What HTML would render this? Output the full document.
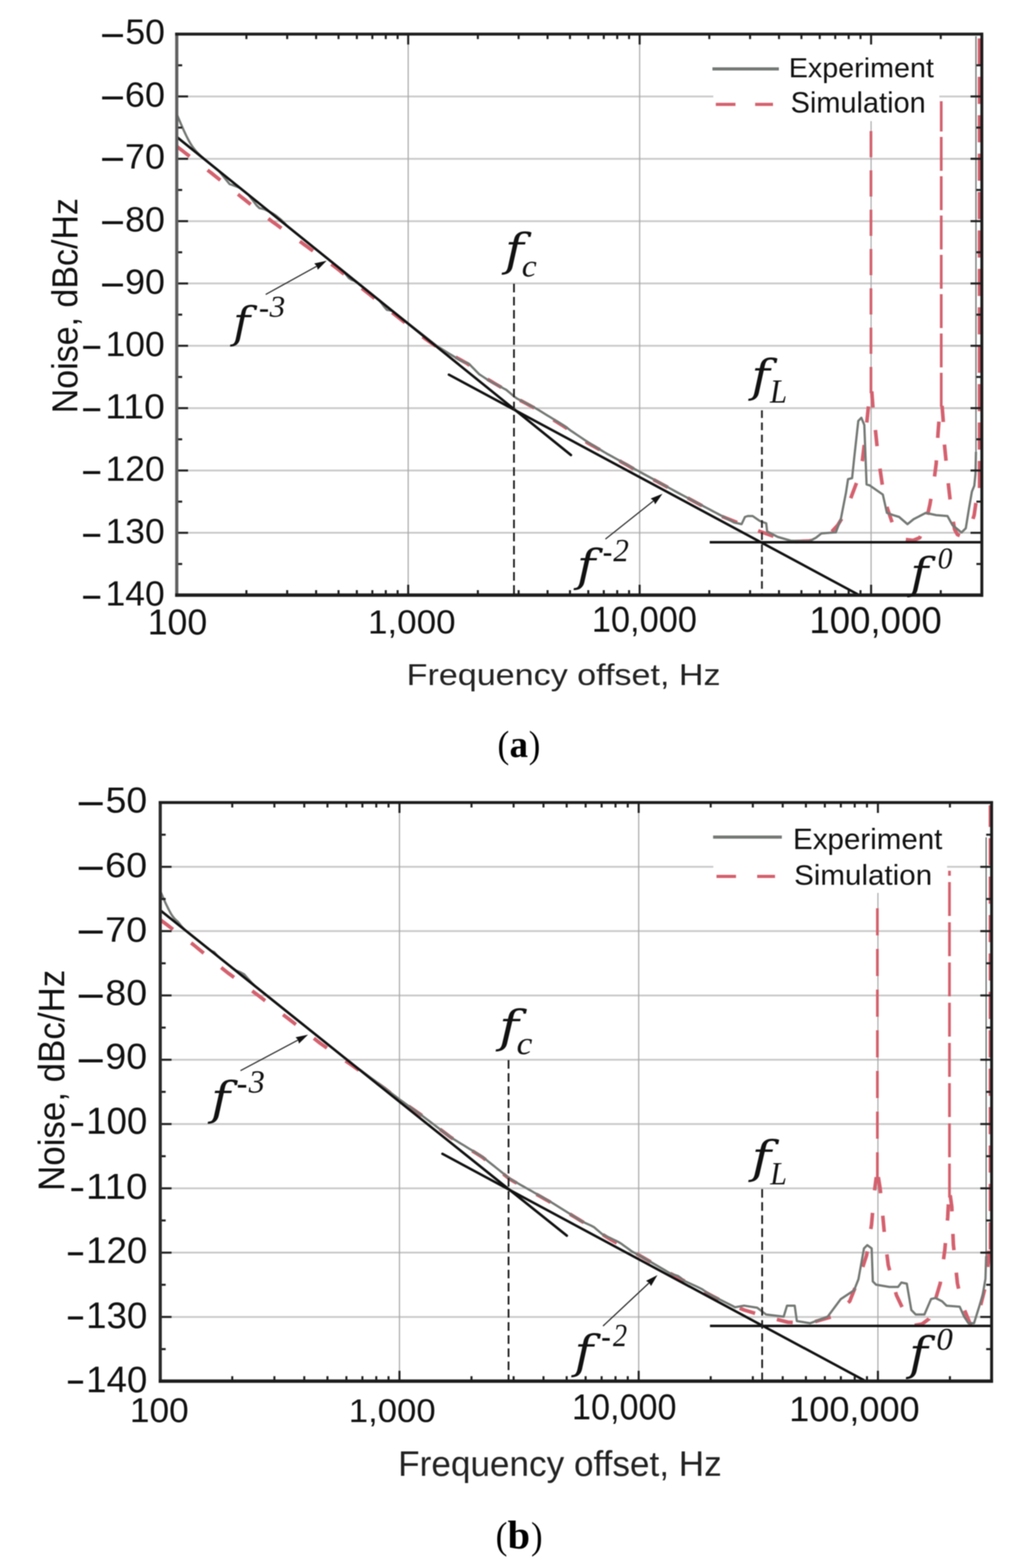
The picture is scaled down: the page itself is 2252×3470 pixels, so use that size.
<!DOCTYPE html>
<html><head><meta charset="utf-8"><title>Noise spectra</title>
<style>html,body{margin:0;padding:0;background:#fff}svg{display:block;filter:blur(1px)}</style></head>
<body><svg xmlns="http://www.w3.org/2000/svg" width="2252" height="3470" viewBox="0 0 2252 3470">
<rect width="2252" height="3470" fill="#fff"/>
<line x1="391.0" y1="213.4" x2="2172.0" y2="213.4" stroke="#c9c9c9" stroke-width="4" />
<line x1="391.0" y1="351.4" x2="2172.0" y2="351.4" stroke="#c9c9c9" stroke-width="4" />
<line x1="391.0" y1="489.4" x2="2172.0" y2="489.4" stroke="#c9c9c9" stroke-width="4" />
<line x1="391.0" y1="627.3" x2="2172.0" y2="627.3" stroke="#c9c9c9" stroke-width="4" />
<line x1="391.0" y1="765.2" x2="2172.0" y2="765.2" stroke="#c9c9c9" stroke-width="4" />
<line x1="391.0" y1="903.2" x2="2172.0" y2="903.2" stroke="#c9c9c9" stroke-width="4" />
<line x1="391.0" y1="1041.2" x2="2172.0" y2="1041.2" stroke="#c9c9c9" stroke-width="4" />
<line x1="391.0" y1="1179.1" x2="2172.0" y2="1179.1" stroke="#c9c9c9" stroke-width="4" />
<line x1="903.0" y1="75.5" x2="903.0" y2="1317.0" stroke="#a8a8a8" stroke-width="2.5" />
<line x1="1415.0" y1="75.5" x2="1415.0" y2="1317.0" stroke="#a8a8a8" stroke-width="2.5" />
<line x1="1927.0" y1="75.5" x2="1927.0" y2="1317.0" stroke="#a8a8a8" stroke-width="2.5" />
<rect x="1578" y="92" width="500" height="176" fill="#fff"/>
<line x1="1576.0" y1="152.6" x2="1723.0" y2="152.6" stroke="#747975" stroke-width="7" />
<line x1="1583.5" y1="231.0" x2="1627.0" y2="231.0" stroke="#d4606d" stroke-width="7" />
<line x1="1670.5" y1="231.0" x2="1710.0" y2="231.0" stroke="#d4606d" stroke-width="7" />
<polyline points="391.0,324.0 397.0,328.6 403.0,333.2 409.0,337.8 415.0,342.5 421.0,347.1 427.0,351.7 433.0,356.3 439.0,360.9 445.0,365.5 451.0,370.2 457.0,374.8 463.0,379.4 469.0,384.0 475.0,388.8 481.0,393.6 487.0,398.4 493.0,403.2 499.0,408.0 505.0,412.8 511.0,417.6 517.0,422.4 523.0,427.2 529.0,432.0 535.0,436.8 541.0,441.5 547.0,446.3 553.0,451.1 559.0,455.9 565.0,460.7 571.0,465.5 577.0,470.3 583.0,475.1 589.0,479.9 595.0,484.7 601.0,489.4 607.0,493.8 613.0,498.1 619.0,502.4 625.0,506.7 631.0,511.0 637.0,515.3 643.0,519.6 649.0,523.9 655.0,528.2 661.0,532.5 667.0,536.8 673.0,541.2 679.0,545.5 685.0,549.9 691.0,554.2 697.0,558.6 703.0,562.9 709.0,567.3 715.0,571.6 721.0,576.0 727.0,580.3 733.0,584.7 739.0,589.0 745.0,593.7 751.0,598.5 757.0,603.3 763.0,608.1 769.0,612.9 775.0,617.7 781.0,622.5 787.0,627.3 793.0,632.1 799.0,636.8 805.0,641.6 811.0,646.4 817.0,651.2 823.0,656.0 829.0,660.8 835.0,665.6 841.0,670.4 847.0,675.2 853.0,679.9 859.0,684.7 865.0,689.5 871.0,694.3 877.0,699.0 883.0,703.8 889.0,708.6 895.0,713.4 901.0,718.2 907.0,722.9 913.0,727.7 919.0,732.5 925.0,737.3 931.0,742.0 937.0,746.8 943.0,751.3 949.0,755.5 955.0,759.7 961.0,763.9 967.0,768.1 973.0,771.4 979.0,774.5 985.0,777.7 991.0,780.9 997.0,784.2 1003.0,787.6 1009.0,790.9 1015.0,794.3 1021.0,797.6 1027.0,800.9 1033.0,804.3 1039.0,808.3 1045.0,813.7 1051.0,819.0 1057.0,824.4 1063.0,829.1 1069.0,833.0 1075.0,836.9 1081.0,840.8 1087.0,844.3 1093.0,847.9 1099.0,851.4 1105.0,854.9 1111.0,858.5 1117.0,862.0 1123.0,865.9 1129.0,870.8 1135.0,875.6 1141.0,880.5 1147.0,883.9 1153.0,887.1 1159.0,890.3 1165.0,893.5 1171.0,896.8 1177.0,900.0 1183.0,903.2 1189.0,907.0 1195.0,910.7 1201.0,914.5 1207.0,918.3 1213.0,922.0 1219.0,925.8 1225.0,929.6 1231.0,933.3 1237.0,937.1 1243.0,940.8 1249.0,944.6 1255.0,948.7 1261.0,952.9 1267.0,957.1 1273.0,961.3 1279.0,965.5 1285.0,969.6 1291.0,973.8 1297.0,978.0 1303.0,981.8 1309.0,985.2 1315.0,988.6 1321.0,991.9 1327.0,995.3 1333.0,998.7 1339.0,1002.1 1345.0,1005.5 1351.0,1008.8 1357.0,1012.2 1363.0,1015.6 1369.0,1019.0 1375.0,1022.4 1381.0,1025.7 1387.0,1029.1 1393.0,1032.5 1399.0,1035.9 1405.0,1039.3 1411.0,1042.6 1417.0,1046.0 1423.0,1049.2 1429.0,1052.5 1435.0,1055.7 1441.0,1058.9 1447.0,1062.1 1453.0,1065.3 1459.0,1068.6 1465.0,1071.8 1471.0,1075.0 1477.0,1078.2 1483.0,1081.5 1489.0,1084.7 1495.0,1087.9 1501.0,1091.2 1507.0,1094.4 1513.0,1097.6 1519.0,1100.8 1525.0,1104.0 1531.0,1107.3 1537.0,1110.5 1543.0,1113.7 1549.0,1117.0 1555.0,1120.2 1561.0,1123.4 1567.0,1126.6 1573.0,1129.8 1579.0,1133.1 1585.0,1136.3 1591.0,1139.5 1597.0,1142.8 1640.0,1160.0 1681.0,1176.0 1720.0,1190.0 1754.0,1198.7 1790.0,1197.0 1808.0,1194.0 1835.0,1182.0 1853.0,1162.5 1870.0,1135.0 1885.0,1094.5 1898.0,1060.0 1908.0,1017.5 1917.0,940.0 1922.0,890.0 1925.0,866.0" fill="none" stroke="#d4606d" stroke-width="8" stroke-linejoin="round" stroke-dasharray="36 50"/>
<polyline points="1926.7,870.0 1926.7,285.0" fill="none" stroke="#d4606d" stroke-width="6" stroke-linejoin="round" stroke-dasharray="58 29"/>
<polyline points="1928.5,866.0 1931.0,900.0 1935.0,936.0 1942.0,1005.0 1952.0,1074.0 1963.0,1125.0 1975.7,1162.5 1990.0,1183.0 2003.0,1194.0 2020.0,1196.0 2034.6,1190.0 2047.0,1160.0 2057.0,1117.0 2066.0,1065.0 2071.0,1026.5 2075.0,960.0 2078.0,920.0 2080.5,898.0" fill="none" stroke="#d4606d" stroke-width="8" stroke-linejoin="round" stroke-dasharray="36 50"/>
<polyline points="2082.2,900.0 2082.2,224.0" fill="none" stroke="#d4606d" stroke-width="6" stroke-linejoin="round" stroke-dasharray="75 12"/>
<polyline points="2084.0,898.0 2086.5,930.0 2089.0,981.0 2098.0,1072.0 2104.0,1125.0 2111.7,1171.5 2118.0,1183.0 2125.0,1186.0 2135.0,1180.0 2148.0,1162.5 2155.0,1140.0 2161.5,1094.5 2164.0,1078.0" fill="none" stroke="#d4606d" stroke-width="8" stroke-linejoin="round" stroke-dasharray="36 50"/>
<polyline points="2166.0,1080.0 2166.0,80.0" fill="none" stroke="#d4606d" stroke-width="6" stroke-linejoin="round" stroke-dasharray="60 25"/>
<polyline points="391.0,252.7 394.0,259.8 397.0,266.8 400.0,273.8 403.0,280.6 406.0,287.4 409.0,293.9 412.0,300.2 415.0,306.2 418.0,311.8 421.0,317.0 424.0,321.8 427.0,326.2 430.0,330.2 433.0,333.8 436.0,337.1 439.0,340.1 442.0,343.0 448.0,348.5 454.0,353.6 460.0,358.6 466.0,363.5 472.0,368.4 478.0,373.2 484.0,378.1 490.0,385.2 496.0,392.8 502.0,400.1 508.0,407.5 514.0,409.5 520.0,411.6 526.0,413.8 532.0,416.8 538.0,421.7 544.0,426.5 550.0,431.4 556.0,439.2 562.0,447.0 568.0,454.9 574.0,460.6 580.0,461.9 586.0,463.7 592.0,466.4 598.0,469.4 604.0,472.9 610.0,476.8 616.0,481.6 622.0,486.5 628.0,492.2 634.0,498.9 640.0,504.0 646.0,508.9 652.0,513.7 658.0,518.5 664.0,523.4 670.0,528.2 676.0,533.1 682.0,537.9 688.0,542.8 694.0,547.6 700.0,552.5 706.0,557.3 712.0,562.1 718.0,567.0 724.0,571.8 730.0,576.7 736.0,581.5 742.0,586.4 748.0,591.2 754.0,596.0 760.0,600.9 766.0,608.3 772.0,615.7 778.0,619.4 784.0,621.3 790.0,625.1 796.0,630.0 802.0,634.8 808.0,639.6 814.0,644.5 820.0,649.3 826.0,654.2 832.0,659.0 838.0,663.9 844.0,670.8 850.0,678.9 856.0,685.8 862.0,686.9 868.0,688.1 874.0,692.8 880.0,697.5 886.0,702.3 892.0,707.0 898.0,711.7 904.0,716.4 910.0,721.1 916.0,725.9 922.0,730.6 928.0,735.3 934.0,740.0 940.0,744.8 946.0,749.5 952.0,754.2 958.0,758.9 964.0,763.7 970.0,768.0 976.0,771.7 982.0,775.4 988.0,779.1 994.0,782.8 1000.0,786.5 1006.0,790.2 1012.0,793.9 1018.0,797.6 1024.0,800.1 1030.0,802.2 1036.0,804.2 1042.0,809.7 1048.0,815.8 1054.0,822.0 1060.0,828.1 1066.0,832.0 1072.0,836.0 1078.0,839.9 1084.0,843.4 1090.0,846.6 1096.0,849.9 1102.0,853.1 1108.0,856.3 1114.0,859.6 1120.0,862.8 1126.0,867.7 1132.0,872.9 1138.0,878.0 1144.0,882.1 1150.0,885.2 1156.0,888.3 1162.0,891.4 1168.0,894.5 1174.0,897.6 1180.0,900.7 1186.0,904.1 1192.0,907.7 1198.0,911.4 1204.0,915.1 1210.0,918.8 1216.0,922.4 1222.0,926.1 1228.0,929.8 1234.0,933.4 1240.0,937.1 1246.0,940.8 1252.0,944.8 1258.0,949.4 1264.0,953.9 1270.0,957.9 1276.0,962.0 1282.0,966.0 1288.0,970.0 1294.0,974.1 1300.0,978.1 1306.0,981.8 1312.0,985.5 1318.0,989.1 1324.0,992.8 1330.0,996.5 1336.0,1000.2 1342.0,1003.7 1348.0,1007.0 1354.0,1010.3 1360.0,1013.6 1366.0,1016.9 1372.0,1020.2 1378.0,1023.5 1384.0,1026.8 1390.0,1030.1 1396.0,1033.4 1402.0,1036.8 1408.0,1040.1 1414.0,1043.4 1420.0,1046.7 1426.0,1050.0 1432.0,1053.3 1438.0,1056.5 1444.0,1059.8 1450.0,1063.1 1456.0,1066.4 1462.0,1069.7 1468.0,1073.0 1474.0,1076.3 1480.0,1079.6 1486.0,1082.9 1492.0,1086.2 1498.0,1089.5 1504.0,1092.7 1510.0,1095.9 1516.0,1099.1 1522.0,1102.2 1528.0,1105.4 1534.0,1108.5 1540.0,1111.7 1546.0,1114.9 1552.0,1118.0 1558.0,1121.2 1564.0,1124.4 1570.0,1127.5 1576.0,1130.7 1582.0,1133.9 1588.0,1137.0 1594.0,1140.2 1600.0,1143.4 1606.0,1146.6 1612.0,1149.8 1618.0,1153.0 1624.0,1156.3 1640.5,1160.0 1648.0,1144.0 1654.0,1142.0 1665.0,1142.0 1681.0,1153.0 1695.0,1158.0 1697.0,1176.0 1720.0,1188.0 1749.0,1196.5 1790.0,1198.0 1805.0,1190.0 1817.0,1180.6 1849.0,1178.0 1860.0,1149.0 1871.5,1090.0 1876.0,1060.5 1885.0,1058.0 1889.7,1013.0 1898.7,931.4 1905.5,924.6 1912.0,940.5 1917.0,1072.0 1923.6,1074.0 1953.0,1094.5 1962.0,1135.0 1975.7,1139.8 1989.0,1144.0 2007.5,1160.0 2021.0,1149.0 2048.0,1135.0 2071.0,1140.0 2096.0,1142.0 2107.0,1162.0 2127.0,1178.5 2136.5,1169.0 2143.0,1128.7 2150.0,1088.0 2155.3,1075.0 2158.0,1048.0 2159.0,1000.0" fill="none" stroke="#747975" stroke-width="5" stroke-linejoin="round" />
<line x1="2159.0" y1="1002.0" x2="2159.0" y2="80.0" stroke="#747975" stroke-width="3" />
<line x1="391.0" y1="303.0" x2="1263.0" y2="1007.0" stroke="#111111" stroke-width="5.5" stroke-linecap="round"/>
<line x1="993.0" y1="829.1" x2="1896.4" y2="1314.7" stroke="#111111" stroke-width="5.5" stroke-linecap="round"/>
<line x1="1570.0" y1="1200.0" x2="2172.0" y2="1200.0" stroke="#111111" stroke-width="5.5" />
<line x1="1137.0" y1="628.0" x2="1137.0" y2="1317.0" stroke="#222" stroke-width="4" stroke-dasharray="19 10"/>
<line x1="1685.5" y1="908.0" x2="1685.5" y2="1317.0" stroke="#222" stroke-width="4" stroke-dasharray="17 10"/>
<line x1="587.8" y1="651.7" x2="702.6" y2="588.1" stroke="#2a2a2a" stroke-width="2.6" />
<polygon points="722.7,576.9 703.0,597.0 700.8,589.0 695.2,583.0" fill="#111"/>
<line x1="1339.3" y1="1193.0" x2="1447.5" y2="1107.1" stroke="#2a2a2a" stroke-width="2.6" />
<polygon points="1465.5,1092.8 1449.3,1115.9 1445.9,1108.3 1439.4,1103.3" fill="#111"/>
<line x1="391.0" y1="144.5" x2="403.0" y2="144.5" stroke="#1e1e1e" stroke-width="4.5" />
<line x1="2172.0" y1="144.5" x2="2160.0" y2="144.5" stroke="#1e1e1e" stroke-width="4.5" />
<line x1="391.0" y1="213.4" x2="416.0" y2="213.4" stroke="#1e1e1e" stroke-width="4.5" />
<line x1="2172.0" y1="213.4" x2="2147.0" y2="213.4" stroke="#1e1e1e" stroke-width="4.5" />
<line x1="391.0" y1="282.4" x2="403.0" y2="282.4" stroke="#1e1e1e" stroke-width="4.5" />
<line x1="2172.0" y1="282.4" x2="2160.0" y2="282.4" stroke="#1e1e1e" stroke-width="4.5" />
<line x1="391.0" y1="351.4" x2="416.0" y2="351.4" stroke="#1e1e1e" stroke-width="4.5" />
<line x1="2172.0" y1="351.4" x2="2147.0" y2="351.4" stroke="#1e1e1e" stroke-width="4.5" />
<line x1="391.0" y1="420.4" x2="403.0" y2="420.4" stroke="#1e1e1e" stroke-width="4.5" />
<line x1="2172.0" y1="420.4" x2="2160.0" y2="420.4" stroke="#1e1e1e" stroke-width="4.5" />
<line x1="391.0" y1="489.4" x2="416.0" y2="489.4" stroke="#1e1e1e" stroke-width="4.5" />
<line x1="2172.0" y1="489.4" x2="2147.0" y2="489.4" stroke="#1e1e1e" stroke-width="4.5" />
<line x1="391.0" y1="558.3" x2="403.0" y2="558.3" stroke="#1e1e1e" stroke-width="4.5" />
<line x1="2172.0" y1="558.3" x2="2160.0" y2="558.3" stroke="#1e1e1e" stroke-width="4.5" />
<line x1="391.0" y1="627.3" x2="416.0" y2="627.3" stroke="#1e1e1e" stroke-width="4.5" />
<line x1="2172.0" y1="627.3" x2="2147.0" y2="627.3" stroke="#1e1e1e" stroke-width="4.5" />
<line x1="391.0" y1="696.3" x2="403.0" y2="696.3" stroke="#1e1e1e" stroke-width="4.5" />
<line x1="2172.0" y1="696.3" x2="2160.0" y2="696.3" stroke="#1e1e1e" stroke-width="4.5" />
<line x1="391.0" y1="765.2" x2="416.0" y2="765.2" stroke="#1e1e1e" stroke-width="4.5" />
<line x1="2172.0" y1="765.2" x2="2147.0" y2="765.2" stroke="#1e1e1e" stroke-width="4.5" />
<line x1="391.0" y1="834.2" x2="403.0" y2="834.2" stroke="#1e1e1e" stroke-width="4.5" />
<line x1="2172.0" y1="834.2" x2="2160.0" y2="834.2" stroke="#1e1e1e" stroke-width="4.5" />
<line x1="391.0" y1="903.2" x2="416.0" y2="903.2" stroke="#1e1e1e" stroke-width="4.5" />
<line x1="2172.0" y1="903.2" x2="2147.0" y2="903.2" stroke="#1e1e1e" stroke-width="4.5" />
<line x1="391.0" y1="972.2" x2="403.0" y2="972.2" stroke="#1e1e1e" stroke-width="4.5" />
<line x1="2172.0" y1="972.2" x2="2160.0" y2="972.2" stroke="#1e1e1e" stroke-width="4.5" />
<line x1="391.0" y1="1041.2" x2="416.0" y2="1041.2" stroke="#1e1e1e" stroke-width="4.5" />
<line x1="2172.0" y1="1041.2" x2="2147.0" y2="1041.2" stroke="#1e1e1e" stroke-width="4.5" />
<line x1="391.0" y1="1110.1" x2="403.0" y2="1110.1" stroke="#1e1e1e" stroke-width="4.5" />
<line x1="2172.0" y1="1110.1" x2="2160.0" y2="1110.1" stroke="#1e1e1e" stroke-width="4.5" />
<line x1="391.0" y1="1179.1" x2="416.0" y2="1179.1" stroke="#1e1e1e" stroke-width="4.5" />
<line x1="2172.0" y1="1179.1" x2="2147.0" y2="1179.1" stroke="#1e1e1e" stroke-width="4.5" />
<line x1="391.0" y1="1248.1" x2="403.0" y2="1248.1" stroke="#1e1e1e" stroke-width="4.5" />
<line x1="2172.0" y1="1248.1" x2="2160.0" y2="1248.1" stroke="#1e1e1e" stroke-width="4.5" />
<line x1="545.1" y1="1317.0" x2="545.1" y2="1306.0" stroke="#1e1e1e" stroke-width="4.5" />
<line x1="545.1" y1="75.5" x2="545.1" y2="86.5" stroke="#1e1e1e" stroke-width="4.5" />
<line x1="635.3" y1="1317.0" x2="635.3" y2="1306.0" stroke="#1e1e1e" stroke-width="4.5" />
<line x1="635.3" y1="75.5" x2="635.3" y2="86.5" stroke="#1e1e1e" stroke-width="4.5" />
<line x1="699.3" y1="1317.0" x2="699.3" y2="1306.0" stroke="#1e1e1e" stroke-width="4.5" />
<line x1="699.3" y1="75.5" x2="699.3" y2="86.5" stroke="#1e1e1e" stroke-width="4.5" />
<line x1="748.9" y1="1317.0" x2="748.9" y2="1306.0" stroke="#1e1e1e" stroke-width="4.5" />
<line x1="748.9" y1="75.5" x2="748.9" y2="86.5" stroke="#1e1e1e" stroke-width="4.5" />
<line x1="789.4" y1="1317.0" x2="789.4" y2="1306.0" stroke="#1e1e1e" stroke-width="4.5" />
<line x1="789.4" y1="75.5" x2="789.4" y2="86.5" stroke="#1e1e1e" stroke-width="4.5" />
<line x1="823.7" y1="1317.0" x2="823.7" y2="1306.0" stroke="#1e1e1e" stroke-width="4.5" />
<line x1="823.7" y1="75.5" x2="823.7" y2="86.5" stroke="#1e1e1e" stroke-width="4.5" />
<line x1="853.4" y1="1317.0" x2="853.4" y2="1306.0" stroke="#1e1e1e" stroke-width="4.5" />
<line x1="853.4" y1="75.5" x2="853.4" y2="86.5" stroke="#1e1e1e" stroke-width="4.5" />
<line x1="879.6" y1="1317.0" x2="879.6" y2="1306.0" stroke="#1e1e1e" stroke-width="4.5" />
<line x1="879.6" y1="75.5" x2="879.6" y2="86.5" stroke="#1e1e1e" stroke-width="4.5" />
<line x1="903.0" y1="1317.0" x2="903.0" y2="1294.0" stroke="#1e1e1e" stroke-width="4.5" />
<line x1="903.0" y1="75.5" x2="903.0" y2="98.5" stroke="#1e1e1e" stroke-width="4.5" />
<line x1="1057.1" y1="1317.0" x2="1057.1" y2="1306.0" stroke="#1e1e1e" stroke-width="4.5" />
<line x1="1057.1" y1="75.5" x2="1057.1" y2="86.5" stroke="#1e1e1e" stroke-width="4.5" />
<line x1="1147.3" y1="1317.0" x2="1147.3" y2="1306.0" stroke="#1e1e1e" stroke-width="4.5" />
<line x1="1147.3" y1="75.5" x2="1147.3" y2="86.5" stroke="#1e1e1e" stroke-width="4.5" />
<line x1="1211.3" y1="1317.0" x2="1211.3" y2="1306.0" stroke="#1e1e1e" stroke-width="4.5" />
<line x1="1211.3" y1="75.5" x2="1211.3" y2="86.5" stroke="#1e1e1e" stroke-width="4.5" />
<line x1="1260.9" y1="1317.0" x2="1260.9" y2="1306.0" stroke="#1e1e1e" stroke-width="4.5" />
<line x1="1260.9" y1="75.5" x2="1260.9" y2="86.5" stroke="#1e1e1e" stroke-width="4.5" />
<line x1="1301.4" y1="1317.0" x2="1301.4" y2="1306.0" stroke="#1e1e1e" stroke-width="4.5" />
<line x1="1301.4" y1="75.5" x2="1301.4" y2="86.5" stroke="#1e1e1e" stroke-width="4.5" />
<line x1="1335.7" y1="1317.0" x2="1335.7" y2="1306.0" stroke="#1e1e1e" stroke-width="4.5" />
<line x1="1335.7" y1="75.5" x2="1335.7" y2="86.5" stroke="#1e1e1e" stroke-width="4.5" />
<line x1="1365.4" y1="1317.0" x2="1365.4" y2="1306.0" stroke="#1e1e1e" stroke-width="4.5" />
<line x1="1365.4" y1="75.5" x2="1365.4" y2="86.5" stroke="#1e1e1e" stroke-width="4.5" />
<line x1="1391.6" y1="1317.0" x2="1391.6" y2="1306.0" stroke="#1e1e1e" stroke-width="4.5" />
<line x1="1391.6" y1="75.5" x2="1391.6" y2="86.5" stroke="#1e1e1e" stroke-width="4.5" />
<line x1="1415.0" y1="1317.0" x2="1415.0" y2="1294.0" stroke="#1e1e1e" stroke-width="4.5" />
<line x1="1415.0" y1="75.5" x2="1415.0" y2="98.5" stroke="#1e1e1e" stroke-width="4.5" />
<line x1="1569.1" y1="1317.0" x2="1569.1" y2="1306.0" stroke="#1e1e1e" stroke-width="4.5" />
<line x1="1569.1" y1="75.5" x2="1569.1" y2="86.5" stroke="#1e1e1e" stroke-width="4.5" />
<line x1="1659.3" y1="1317.0" x2="1659.3" y2="1306.0" stroke="#1e1e1e" stroke-width="4.5" />
<line x1="1659.3" y1="75.5" x2="1659.3" y2="86.5" stroke="#1e1e1e" stroke-width="4.5" />
<line x1="1723.3" y1="1317.0" x2="1723.3" y2="1306.0" stroke="#1e1e1e" stroke-width="4.5" />
<line x1="1723.3" y1="75.5" x2="1723.3" y2="86.5" stroke="#1e1e1e" stroke-width="4.5" />
<line x1="1772.9" y1="1317.0" x2="1772.9" y2="1306.0" stroke="#1e1e1e" stroke-width="4.5" />
<line x1="1772.9" y1="75.5" x2="1772.9" y2="86.5" stroke="#1e1e1e" stroke-width="4.5" />
<line x1="1813.4" y1="1317.0" x2="1813.4" y2="1306.0" stroke="#1e1e1e" stroke-width="4.5" />
<line x1="1813.4" y1="75.5" x2="1813.4" y2="86.5" stroke="#1e1e1e" stroke-width="4.5" />
<line x1="1847.7" y1="1317.0" x2="1847.7" y2="1306.0" stroke="#1e1e1e" stroke-width="4.5" />
<line x1="1847.7" y1="75.5" x2="1847.7" y2="86.5" stroke="#1e1e1e" stroke-width="4.5" />
<line x1="1877.4" y1="1317.0" x2="1877.4" y2="1306.0" stroke="#1e1e1e" stroke-width="4.5" />
<line x1="1877.4" y1="75.5" x2="1877.4" y2="86.5" stroke="#1e1e1e" stroke-width="4.5" />
<line x1="1903.6" y1="1317.0" x2="1903.6" y2="1306.0" stroke="#1e1e1e" stroke-width="4.5" />
<line x1="1903.6" y1="75.5" x2="1903.6" y2="86.5" stroke="#1e1e1e" stroke-width="4.5" />
<line x1="1927.0" y1="1317.0" x2="1927.0" y2="1294.0" stroke="#1e1e1e" stroke-width="4.5" />
<line x1="1927.0" y1="75.5" x2="1927.0" y2="98.5" stroke="#1e1e1e" stroke-width="4.5" />
<line x1="2081.1" y1="1317.0" x2="2081.1" y2="1306.0" stroke="#1e1e1e" stroke-width="4.5" />
<line x1="2081.1" y1="75.5" x2="2081.1" y2="86.5" stroke="#1e1e1e" stroke-width="4.5" />
<line x1="391.0" y1="72.5" x2="391.0" y2="1320.5" stroke="#5f5f5f" stroke-width="7" />
<line x1="387.5" y1="75.5" x2="2175.0" y2="75.5" stroke="#1c1c1c" stroke-width="6.5" />
<line x1="387.5" y1="1317.0" x2="2175.0" y2="1317.0" stroke="#1c1c1c" stroke-width="7.5" />
<line x1="2172.0" y1="72.5" x2="2172.0" y2="1320.5" stroke="#1c1c1c" stroke-width="6.5" />
<line x1="354.5" y1="1918.3" x2="2193.6" y2="1918.3" stroke="#c9c9c9" stroke-width="4" />
<line x1="354.5" y1="2060.6" x2="2193.6" y2="2060.6" stroke="#c9c9c9" stroke-width="4" />
<line x1="354.5" y1="2202.9" x2="2193.6" y2="2202.9" stroke="#c9c9c9" stroke-width="4" />
<line x1="354.5" y1="2345.2" x2="2193.6" y2="2345.2" stroke="#c9c9c9" stroke-width="4" />
<line x1="354.5" y1="2487.5" x2="2193.6" y2="2487.5" stroke="#c9c9c9" stroke-width="4" />
<line x1="354.5" y1="2629.8" x2="2193.6" y2="2629.8" stroke="#c9c9c9" stroke-width="4" />
<line x1="354.5" y1="2772.1" x2="2193.6" y2="2772.1" stroke="#c9c9c9" stroke-width="4" />
<line x1="354.5" y1="2914.4" x2="2193.6" y2="2914.4" stroke="#c9c9c9" stroke-width="4" />
<line x1="883.7" y1="1776.0" x2="883.7" y2="3056.5" stroke="#a8a8a8" stroke-width="2.5" />
<line x1="1412.9" y1="1776.0" x2="1412.9" y2="3056.5" stroke="#a8a8a8" stroke-width="2.5" />
<line x1="1942.1" y1="1776.0" x2="1942.1" y2="3056.5" stroke="#a8a8a8" stroke-width="2.5" />
<rect x="1578" y="1798" width="517" height="178" fill="#fff"/>
<line x1="1577.5" y1="1852.6" x2="1729.6" y2="1852.6" stroke="#747975" stroke-width="7" />
<line x1="1585.0" y1="1939.6" x2="1628.2" y2="1939.6" stroke="#d4606d" stroke-width="7" />
<line x1="1675.0" y1="1939.6" x2="1714.5" y2="1939.6" stroke="#d4606d" stroke-width="7" />
<polyline points="354.0,2035.0 360.0,2039.5 366.0,2044.0 372.0,2048.5 378.0,2053.1 384.0,2057.6 390.0,2062.1 396.0,2066.6 402.0,2071.1 408.0,2075.6 414.0,2080.2 420.0,2084.7 426.0,2089.2 432.0,2094.0 438.0,2099.0 444.0,2103.9 450.0,2108.8 456.0,2113.8 462.0,2118.7 468.0,2123.6 474.0,2128.5 480.0,2133.5 486.0,2138.4 492.0,2143.3 498.0,2148.2 504.0,2152.9 510.0,2157.3 516.0,2161.8 522.0,2166.2 528.0,2170.7 534.0,2175.2 540.0,2179.6 546.0,2184.1 552.0,2188.5 558.0,2193.0 564.0,2197.5 570.0,2201.9 576.0,2206.6 582.0,2211.2 588.0,2215.8 594.0,2220.5 600.0,2225.1 606.0,2229.7 612.0,2234.4 618.0,2239.0 624.0,2243.6 630.0,2248.3 636.0,2252.9 642.0,2257.5 648.0,2262.1 654.0,2266.8 660.0,2271.4 666.0,2276.0 672.0,2280.7 678.0,2285.3 684.0,2289.9 690.0,2294.6 696.0,2299.2 702.0,2303.8 708.0,2308.5 714.0,2312.8 720.0,2316.9 726.0,2321.1 732.0,2325.2 738.0,2329.4 744.0,2333.6 750.0,2337.7 756.0,2341.9 762.0,2346.0 768.0,2350.2 774.0,2354.3 780.0,2358.5 786.0,2362.7 792.0,2366.9 798.0,2371.2 804.0,2375.5 810.0,2379.7 816.0,2384.0 822.0,2388.2 828.0,2392.5 834.0,2396.7 840.0,2401.0 846.0,2405.3 852.0,2409.6 858.0,2414.3 864.0,2418.9 870.0,2423.5 876.0,2428.1 882.0,2432.7 888.0,2437.0 894.0,2441.2 900.0,2445.3 906.0,2449.5 912.0,2453.6 918.0,2457.8 924.0,2462.0 930.0,2466.1 936.0,2470.7 942.0,2475.2 948.0,2479.8 954.0,2484.3 960.0,2488.8 966.0,2493.4 972.0,2497.9 978.0,2502.5 984.0,2507.0 990.0,2511.5 996.0,2516.1 1002.0,2520.1 1008.0,2523.9 1014.0,2527.6 1020.0,2531.4 1026.0,2535.1 1032.0,2538.9 1038.0,2542.7 1044.0,2546.4 1050.0,2550.2 1056.0,2553.9 1062.0,2557.7 1068.0,2561.6 1074.0,2566.4 1080.0,2571.2 1086.0,2576.0 1092.0,2580.8 1098.0,2585.6 1104.0,2590.4 1110.0,2595.3 1116.0,2600.1 1122.0,2604.9 1128.0,2609.5 1134.0,2613.0 1140.0,2616.4 1146.0,2619.8 1152.0,2623.3 1158.0,2626.7 1164.0,2630.1 1170.0,2633.5 1176.0,2636.9 1182.0,2640.3 1188.0,2643.7 1194.0,2647.1 1200.0,2650.5 1206.0,2653.9 1212.0,2657.3 1218.0,2660.7 1224.0,2664.3 1230.0,2668.0 1236.0,2671.6 1242.0,2675.3 1248.0,2679.0 1254.0,2682.6 1260.0,2686.3 1266.0,2690.0 1272.0,2693.7 1278.0,2697.3 1284.0,2701.0 1290.0,2704.7 1296.0,2708.5 1302.0,2712.3 1308.0,2716.1 1314.0,2719.9 1320.0,2723.7 1326.0,2727.5 1332.0,2731.2 1338.0,2735.0 1344.0,2738.8 1350.0,2742.6 1356.0,2746.0 1362.0,2749.3 1368.0,2752.6 1374.0,2755.9 1380.0,2759.2 1386.0,2762.5 1392.0,2765.9 1398.0,2769.2 1404.0,2772.5 1410.0,2775.8 1416.0,2779.1 1422.0,2782.5 1428.0,2786.0 1434.0,2789.5 1440.0,2793.0 1446.0,2796.5 1452.0,2800.0 1458.0,2803.5 1464.0,2807.0 1470.0,2810.5 1476.0,2814.1 1482.0,2817.6 1488.0,2820.8 1494.0,2824.1 1500.0,2827.3 1506.0,2830.5 1512.0,2833.7 1518.0,2837.0 1524.0,2840.2 1530.0,2843.4 1536.0,2846.6 1542.0,2849.9 1548.0,2853.1 1554.0,2856.3 1560.0,2859.5 1566.0,2862.7 1572.0,2866.0 1578.0,2869.2 1584.0,2872.4 1590.0,2875.6 1596.0,2878.9 1646.0,2899.0 1694.7,2913.7 1743.0,2926.0 1792.0,2928.0 1840.7,2913.7 1879.7,2879.7 1899.0,2831.0 1905.0,2815.0 1917.0,2778.0 1928.0,2710.0 1934.0,2640.0 1938.5,2605.0" fill="none" stroke="#d4606d" stroke-width="8" stroke-linejoin="round" stroke-dasharray="36 50"/>
<polyline points="1940.9,2610.0 1940.9,1989.0" fill="none" stroke="#d4606d" stroke-width="6" stroke-linejoin="round" stroke-dasharray="60 30"/>
<polyline points="1943.0,2605.0 1947.0,2630.0 1951.0,2670.0 1957.0,2736.0 1965.0,2800.0 1983.0,2866.0 2006.0,2915.0 2023.0,2933.0 2040.0,2930.0 2055.0,2918.6 2068.0,2880.0 2080.0,2840.0 2090.0,2767.0 2096.5,2694.0 2099.0,2645.0" fill="none" stroke="#d4606d" stroke-width="8" stroke-linejoin="round" stroke-dasharray="36 50"/>
<polyline points="2100.4,2650.0 2100.4,1927.0" fill="none" stroke="#d4606d" stroke-width="6" stroke-linejoin="round" stroke-dasharray="75 14"/>
<polyline points="2102.0,2645.0 2105.5,2670.0 2109.0,2754.0 2118.0,2840.0 2128.0,2885.0 2147.4,2933.0 2166.8,2899.0 2179.0,2850.5 2186.3,2792.0 2188.5,2760.0" fill="none" stroke="#d4606d" stroke-width="8" stroke-linejoin="round" stroke-dasharray="36 50"/>
<polyline points="2190.0,2765.0 2190.0,1782.0" fill="none" stroke="#d4606d" stroke-width="6" stroke-linejoin="round" stroke-dasharray="60 25"/>
<polyline points="354.0,1970.5 357.0,1977.5 360.0,1984.4 363.0,1991.2 366.0,1997.9 369.0,2004.3 372.0,2010.4 375.0,2016.2 378.0,2021.7 381.0,2026.5 384.0,2030.6 387.0,2034.0 390.0,2036.9 393.0,2039.5 396.0,2042.9 399.0,2046.7 402.0,2050.5 408.0,2056.8 414.0,2061.8 420.0,2066.7 426.0,2071.6 432.0,2076.4 438.0,2081.2 444.0,2086.0 450.0,2090.9 456.0,2095.7 462.0,2100.5 468.0,2104.5 474.0,2107.1 480.0,2114.1 486.0,2119.7 492.0,2124.5 498.0,2129.3 504.0,2134.1 510.0,2138.9 516.0,2143.7 522.0,2147.7 528.0,2150.1 534.0,2152.8 540.0,2156.2 546.0,2162.9 552.0,2169.5 558.0,2176.1 564.0,2182.1 570.0,2186.9 576.0,2191.7 582.0,2196.5 588.0,2201.3 594.0,2206.1 600.0,2210.9 606.0,2215.8 612.0,2220.6 618.0,2225.4 624.0,2230.2 630.0,2235.0 636.0,2239.8 642.0,2244.6 648.0,2249.4 654.0,2254.2 660.0,2259.0 666.0,2263.8 672.0,2268.6 678.0,2273.4 684.0,2278.2 690.0,2283.0 696.0,2287.8 702.0,2292.6 708.0,2297.4 714.0,2302.2 720.0,2307.0 726.0,2311.8 732.0,2316.6 738.0,2321.4 744.0,2326.2 750.0,2331.0 756.0,2335.8 762.0,2340.6 768.0,2345.4 774.0,2350.3 780.0,2355.1 786.0,2359.7 792.0,2364.2 798.0,2368.6 804.0,2373.1 810.0,2377.5 816.0,2381.9 822.0,2386.4 828.0,2390.8 834.0,2395.3 840.0,2399.7 846.0,2404.1 852.0,2408.6 858.0,2413.3 864.0,2417.9 870.0,2422.5 876.0,2427.1 882.0,2431.7 888.0,2436.1 894.0,2440.4 900.0,2444.7 906.0,2449.0 912.0,2453.3 918.0,2457.6 924.0,2461.9 930.0,2466.1 936.0,2470.7 942.0,2475.2 948.0,2479.8 954.0,2484.3 960.0,2488.8 966.0,2493.4 972.0,2497.9 978.0,2502.5 984.0,2507.0 990.0,2511.5 996.0,2516.1 1002.0,2520.0 1008.0,2523.7 1014.0,2527.4 1020.0,2531.1 1026.0,2534.7 1032.0,2538.4 1038.0,2542.1 1044.0,2545.7 1050.0,2549.4 1056.0,2553.1 1062.0,2556.8 1068.0,2560.6 1074.0,2565.4 1080.0,2570.2 1086.0,2575.0 1092.0,2579.8 1098.0,2584.6 1104.0,2589.4 1110.0,2594.3 1116.0,2599.1 1122.0,2603.9 1128.0,2608.5 1134.0,2612.0 1140.0,2615.4 1146.0,2618.8 1152.0,2622.3 1158.0,2625.7 1164.0,2629.1 1170.0,2632.5 1176.0,2635.9 1182.0,2639.3 1188.0,2642.7 1194.0,2646.1 1200.0,2649.5 1206.0,2652.9 1212.0,2656.3 1218.0,2659.7 1224.0,2663.4 1230.0,2667.1 1236.0,2670.9 1242.0,2674.6 1248.0,2678.4 1254.0,2682.2 1260.0,2685.9 1266.0,2689.7 1272.0,2693.4 1278.0,2697.2 1284.0,2701.0 1290.0,2704.2 1296.0,2707.0 1302.0,2709.7 1308.0,2712.5 1314.0,2715.7 1320.0,2720.8 1326.0,2725.9 1332.0,2731.0 1338.0,2733.9 1344.0,2736.9 1350.0,2739.8 1356.0,2742.7 1362.0,2745.6 1368.0,2748.5 1374.0,2752.1 1380.0,2756.5 1386.0,2760.8 1392.0,2765.1 1398.0,2769.5 1404.0,2772.7 1410.0,2775.9 1416.0,2779.2 1422.0,2782.5 1428.0,2786.0 1434.0,2789.5 1440.0,2793.0 1446.0,2796.5 1452.0,2800.0 1458.0,2803.5 1464.0,2807.0 1470.0,2810.5 1476.0,2814.1 1482.0,2817.6 1488.0,2819.8 1494.0,2821.9 1500.0,2823.9 1506.0,2828.0 1512.0,2833.7 1518.0,2836.5 1524.0,2839.3 1530.0,2842.0 1536.0,2844.8 1542.0,2847.6 1548.0,2850.4 1554.0,2853.5 1560.0,2857.8 1566.0,2862.2 1572.0,2865.9 1578.0,2868.8 1584.0,2871.8 1590.0,2874.8 1596.0,2877.8 1602.0,2880.8 1608.0,2883.8 1614.0,2886.8 1620.0,2889.8 1626.0,2893.0 1646.0,2889.4 1675.0,2894.0 1694.7,2908.9 1733.6,2913.7 1741.0,2889.4 1758.0,2889.4 1762.8,2923.5 1792.0,2928.3 1831.0,2913.7 1860.0,2874.8 1889.4,2855.3 1899.0,2831.0 1911.3,2762.8 1918.6,2755.5 1928.3,2762.8 1930.8,2835.8 1938.0,2843.0 1967.3,2848.0 1986.7,2848.0 1994.0,2838.3 2006.0,2840.7 2016.0,2899.0 2025.7,2908.9 2045.0,2908.9 2059.7,2874.8 2069.5,2872.4 2084.0,2879.7 2093.8,2889.4 2123.0,2891.8 2132.8,2913.7 2142.5,2928.3 2154.7,2928.3 2166.8,2889.4 2174.0,2865.0 2180.0,2830.0 2181.5,2780.0" fill="none" stroke="#747975" stroke-width="5" stroke-linejoin="round" />
<line x1="2181.5" y1="2782.0" x2="2181.5" y2="1853.0" stroke="#747975" stroke-width="3" />
<line x1="354.0" y1="2014.0" x2="1253.9" y2="2734.5" stroke="#111111" stroke-width="5.5" stroke-linecap="round"/>
<line x1="978.8" y1="2553.4" x2="1911.2" y2="3054.4" stroke="#111111" stroke-width="5.5" stroke-linecap="round"/>
<line x1="1570.6" y1="2934.2" x2="2193.6" y2="2934.2" stroke="#111111" stroke-width="5.5" />
<line x1="1125.0" y1="2346.0" x2="1125.0" y2="3057.0" stroke="#222" stroke-width="4" stroke-dasharray="19 10"/>
<line x1="1686.0" y1="2631.6" x2="1686.0" y2="3062.0" stroke="#222" stroke-width="4" stroke-dasharray="19 10"/>
<line x1="532.0" y1="2369.4" x2="661.2" y2="2300.6" stroke="#2a2a2a" stroke-width="2.6" />
<polygon points="681.5,2289.8 661.4,2309.6 659.4,2301.5 653.9,2295.4" fill="#111"/>
<line x1="1334.0" y1="2934.5" x2="1437.6" y2="2837.5" stroke="#2a2a2a" stroke-width="2.6" />
<polygon points="1454.4,2821.8 1440.2,2846.1 1436.1,2838.9 1429.2,2834.4" fill="#111"/>
<line x1="354.5" y1="1847.2" x2="366.5" y2="1847.2" stroke="#1e1e1e" stroke-width="4.5" />
<line x1="2193.6" y1="1847.2" x2="2181.6" y2="1847.2" stroke="#1e1e1e" stroke-width="4.5" />
<line x1="354.5" y1="1918.3" x2="379.5" y2="1918.3" stroke="#1e1e1e" stroke-width="4.5" />
<line x1="2193.6" y1="1918.3" x2="2168.6" y2="1918.3" stroke="#1e1e1e" stroke-width="4.5" />
<line x1="354.5" y1="1989.5" x2="366.5" y2="1989.5" stroke="#1e1e1e" stroke-width="4.5" />
<line x1="2193.6" y1="1989.5" x2="2181.6" y2="1989.5" stroke="#1e1e1e" stroke-width="4.5" />
<line x1="354.5" y1="2060.6" x2="379.5" y2="2060.6" stroke="#1e1e1e" stroke-width="4.5" />
<line x1="2193.6" y1="2060.6" x2="2168.6" y2="2060.6" stroke="#1e1e1e" stroke-width="4.5" />
<line x1="354.5" y1="2131.8" x2="366.5" y2="2131.8" stroke="#1e1e1e" stroke-width="4.5" />
<line x1="2193.6" y1="2131.8" x2="2181.6" y2="2131.8" stroke="#1e1e1e" stroke-width="4.5" />
<line x1="354.5" y1="2202.9" x2="379.5" y2="2202.9" stroke="#1e1e1e" stroke-width="4.5" />
<line x1="2193.6" y1="2202.9" x2="2168.6" y2="2202.9" stroke="#1e1e1e" stroke-width="4.5" />
<line x1="354.5" y1="2274.1" x2="366.5" y2="2274.1" stroke="#1e1e1e" stroke-width="4.5" />
<line x1="2193.6" y1="2274.1" x2="2181.6" y2="2274.1" stroke="#1e1e1e" stroke-width="4.5" />
<line x1="354.5" y1="2345.2" x2="379.5" y2="2345.2" stroke="#1e1e1e" stroke-width="4.5" />
<line x1="2193.6" y1="2345.2" x2="2168.6" y2="2345.2" stroke="#1e1e1e" stroke-width="4.5" />
<line x1="354.5" y1="2416.3" x2="366.5" y2="2416.3" stroke="#1e1e1e" stroke-width="4.5" />
<line x1="2193.6" y1="2416.3" x2="2181.6" y2="2416.3" stroke="#1e1e1e" stroke-width="4.5" />
<line x1="354.5" y1="2487.5" x2="379.5" y2="2487.5" stroke="#1e1e1e" stroke-width="4.5" />
<line x1="2193.6" y1="2487.5" x2="2168.6" y2="2487.5" stroke="#1e1e1e" stroke-width="4.5" />
<line x1="354.5" y1="2558.7" x2="366.5" y2="2558.7" stroke="#1e1e1e" stroke-width="4.5" />
<line x1="2193.6" y1="2558.7" x2="2181.6" y2="2558.7" stroke="#1e1e1e" stroke-width="4.5" />
<line x1="354.5" y1="2629.8" x2="379.5" y2="2629.8" stroke="#1e1e1e" stroke-width="4.5" />
<line x1="2193.6" y1="2629.8" x2="2168.6" y2="2629.8" stroke="#1e1e1e" stroke-width="4.5" />
<line x1="354.5" y1="2700.9" x2="366.5" y2="2700.9" stroke="#1e1e1e" stroke-width="4.5" />
<line x1="2193.6" y1="2700.9" x2="2181.6" y2="2700.9" stroke="#1e1e1e" stroke-width="4.5" />
<line x1="354.5" y1="2772.1" x2="379.5" y2="2772.1" stroke="#1e1e1e" stroke-width="4.5" />
<line x1="2193.6" y1="2772.1" x2="2168.6" y2="2772.1" stroke="#1e1e1e" stroke-width="4.5" />
<line x1="354.5" y1="2843.2" x2="366.5" y2="2843.2" stroke="#1e1e1e" stroke-width="4.5" />
<line x1="2193.6" y1="2843.2" x2="2181.6" y2="2843.2" stroke="#1e1e1e" stroke-width="4.5" />
<line x1="354.5" y1="2914.4" x2="379.5" y2="2914.4" stroke="#1e1e1e" stroke-width="4.5" />
<line x1="2193.6" y1="2914.4" x2="2168.6" y2="2914.4" stroke="#1e1e1e" stroke-width="4.5" />
<line x1="354.5" y1="2985.6" x2="366.5" y2="2985.6" stroke="#1e1e1e" stroke-width="4.5" />
<line x1="2193.6" y1="2985.6" x2="2181.6" y2="2985.6" stroke="#1e1e1e" stroke-width="4.5" />
<line x1="513.8" y1="3056.5" x2="513.8" y2="3045.5" stroke="#1e1e1e" stroke-width="4.5" />
<line x1="513.8" y1="1776.0" x2="513.8" y2="1787.0" stroke="#1e1e1e" stroke-width="4.5" />
<line x1="607.0" y1="3056.5" x2="607.0" y2="3045.5" stroke="#1e1e1e" stroke-width="4.5" />
<line x1="607.0" y1="1776.0" x2="607.0" y2="1787.0" stroke="#1e1e1e" stroke-width="4.5" />
<line x1="673.1" y1="3056.5" x2="673.1" y2="3045.5" stroke="#1e1e1e" stroke-width="4.5" />
<line x1="673.1" y1="1776.0" x2="673.1" y2="1787.0" stroke="#1e1e1e" stroke-width="4.5" />
<line x1="724.4" y1="3056.5" x2="724.4" y2="3045.5" stroke="#1e1e1e" stroke-width="4.5" />
<line x1="724.4" y1="1776.0" x2="724.4" y2="1787.0" stroke="#1e1e1e" stroke-width="4.5" />
<line x1="766.3" y1="3056.5" x2="766.3" y2="3045.5" stroke="#1e1e1e" stroke-width="4.5" />
<line x1="766.3" y1="1776.0" x2="766.3" y2="1787.0" stroke="#1e1e1e" stroke-width="4.5" />
<line x1="801.7" y1="3056.5" x2="801.7" y2="3045.5" stroke="#1e1e1e" stroke-width="4.5" />
<line x1="801.7" y1="1776.0" x2="801.7" y2="1787.0" stroke="#1e1e1e" stroke-width="4.5" />
<line x1="832.4" y1="3056.5" x2="832.4" y2="3045.5" stroke="#1e1e1e" stroke-width="4.5" />
<line x1="832.4" y1="1776.0" x2="832.4" y2="1787.0" stroke="#1e1e1e" stroke-width="4.5" />
<line x1="859.5" y1="3056.5" x2="859.5" y2="3045.5" stroke="#1e1e1e" stroke-width="4.5" />
<line x1="859.5" y1="1776.0" x2="859.5" y2="1787.0" stroke="#1e1e1e" stroke-width="4.5" />
<line x1="883.7" y1="3056.5" x2="883.7" y2="3033.5" stroke="#1e1e1e" stroke-width="4.5" />
<line x1="883.7" y1="1776.0" x2="883.7" y2="1799.0" stroke="#1e1e1e" stroke-width="4.5" />
<line x1="1043.0" y1="3056.5" x2="1043.0" y2="3045.5" stroke="#1e1e1e" stroke-width="4.5" />
<line x1="1043.0" y1="1776.0" x2="1043.0" y2="1787.0" stroke="#1e1e1e" stroke-width="4.5" />
<line x1="1136.2" y1="3056.5" x2="1136.2" y2="3045.5" stroke="#1e1e1e" stroke-width="4.5" />
<line x1="1136.2" y1="1776.0" x2="1136.2" y2="1787.0" stroke="#1e1e1e" stroke-width="4.5" />
<line x1="1202.3" y1="3056.5" x2="1202.3" y2="3045.5" stroke="#1e1e1e" stroke-width="4.5" />
<line x1="1202.3" y1="1776.0" x2="1202.3" y2="1787.0" stroke="#1e1e1e" stroke-width="4.5" />
<line x1="1253.6" y1="3056.5" x2="1253.6" y2="3045.5" stroke="#1e1e1e" stroke-width="4.5" />
<line x1="1253.6" y1="1776.0" x2="1253.6" y2="1787.0" stroke="#1e1e1e" stroke-width="4.5" />
<line x1="1295.5" y1="3056.5" x2="1295.5" y2="3045.5" stroke="#1e1e1e" stroke-width="4.5" />
<line x1="1295.5" y1="1776.0" x2="1295.5" y2="1787.0" stroke="#1e1e1e" stroke-width="4.5" />
<line x1="1330.9" y1="3056.5" x2="1330.9" y2="3045.5" stroke="#1e1e1e" stroke-width="4.5" />
<line x1="1330.9" y1="1776.0" x2="1330.9" y2="1787.0" stroke="#1e1e1e" stroke-width="4.5" />
<line x1="1361.6" y1="3056.5" x2="1361.6" y2="3045.5" stroke="#1e1e1e" stroke-width="4.5" />
<line x1="1361.6" y1="1776.0" x2="1361.6" y2="1787.0" stroke="#1e1e1e" stroke-width="4.5" />
<line x1="1388.7" y1="3056.5" x2="1388.7" y2="3045.5" stroke="#1e1e1e" stroke-width="4.5" />
<line x1="1388.7" y1="1776.0" x2="1388.7" y2="1787.0" stroke="#1e1e1e" stroke-width="4.5" />
<line x1="1412.9" y1="3056.5" x2="1412.9" y2="3033.5" stroke="#1e1e1e" stroke-width="4.5" />
<line x1="1412.9" y1="1776.0" x2="1412.9" y2="1799.0" stroke="#1e1e1e" stroke-width="4.5" />
<line x1="1572.2" y1="3056.5" x2="1572.2" y2="3045.5" stroke="#1e1e1e" stroke-width="4.5" />
<line x1="1572.2" y1="1776.0" x2="1572.2" y2="1787.0" stroke="#1e1e1e" stroke-width="4.5" />
<line x1="1665.4" y1="3056.5" x2="1665.4" y2="3045.5" stroke="#1e1e1e" stroke-width="4.5" />
<line x1="1665.4" y1="1776.0" x2="1665.4" y2="1787.0" stroke="#1e1e1e" stroke-width="4.5" />
<line x1="1731.5" y1="3056.5" x2="1731.5" y2="3045.5" stroke="#1e1e1e" stroke-width="4.5" />
<line x1="1731.5" y1="1776.0" x2="1731.5" y2="1787.0" stroke="#1e1e1e" stroke-width="4.5" />
<line x1="1782.8" y1="3056.5" x2="1782.8" y2="3045.5" stroke="#1e1e1e" stroke-width="4.5" />
<line x1="1782.8" y1="1776.0" x2="1782.8" y2="1787.0" stroke="#1e1e1e" stroke-width="4.5" />
<line x1="1824.7" y1="3056.5" x2="1824.7" y2="3045.5" stroke="#1e1e1e" stroke-width="4.5" />
<line x1="1824.7" y1="1776.0" x2="1824.7" y2="1787.0" stroke="#1e1e1e" stroke-width="4.5" />
<line x1="1860.1" y1="3056.5" x2="1860.1" y2="3045.5" stroke="#1e1e1e" stroke-width="4.5" />
<line x1="1860.1" y1="1776.0" x2="1860.1" y2="1787.0" stroke="#1e1e1e" stroke-width="4.5" />
<line x1="1890.8" y1="3056.5" x2="1890.8" y2="3045.5" stroke="#1e1e1e" stroke-width="4.5" />
<line x1="1890.8" y1="1776.0" x2="1890.8" y2="1787.0" stroke="#1e1e1e" stroke-width="4.5" />
<line x1="1917.9" y1="3056.5" x2="1917.9" y2="3045.5" stroke="#1e1e1e" stroke-width="4.5" />
<line x1="1917.9" y1="1776.0" x2="1917.9" y2="1787.0" stroke="#1e1e1e" stroke-width="4.5" />
<line x1="1942.1" y1="3056.5" x2="1942.1" y2="3033.5" stroke="#1e1e1e" stroke-width="4.5" />
<line x1="1942.1" y1="1776.0" x2="1942.1" y2="1799.0" stroke="#1e1e1e" stroke-width="4.5" />
<line x1="2101.4" y1="3056.5" x2="2101.4" y2="3045.5" stroke="#1e1e1e" stroke-width="4.5" />
<line x1="2101.4" y1="1776.0" x2="2101.4" y2="1787.0" stroke="#1e1e1e" stroke-width="4.5" />
<line x1="354.5" y1="1773.0" x2="354.5" y2="3060.0" stroke="#2c2c2c" stroke-width="7" />
<line x1="351.0" y1="1776.0" x2="2196.6" y2="1776.0" stroke="#1c1c1c" stroke-width="6.5" />
<line x1="351.0" y1="3056.5" x2="2196.6" y2="3056.5" stroke="#1c1c1c" stroke-width="7.5" />
<line x1="2193.6" y1="1773.0" x2="2193.6" y2="3060.0" stroke="#1c1c1c" stroke-width="6.5" />
<text transform="matrix(0.39469 0 0 0.38732 277.14 96.53)" font-family="Liberation Sans" font-size="200" fill="#111">50</text>
<text transform="matrix(0.47423 0 0 0.45714 221.26 108.83)" font-family="Liberation Sans" font-size="200" fill="#111">−</text>
<text transform="matrix(0.39854 0 0 0.38592 276.31 236.03)" font-family="Liberation Sans" font-size="200" fill="#111">60</text>
<text transform="matrix(0.47423 0 0 0.45714 221.26 246.53)" font-family="Liberation Sans" font-size="200" fill="#111">−</text>
<text transform="matrix(0.39854 0 0 0.38592 276.31 372.73)" font-family="Liberation Sans" font-size="200" fill="#111">70</text>
<text transform="matrix(0.47423 0 0 0.45714 221.26 383.13)" font-family="Liberation Sans" font-size="200" fill="#111">−</text>
<text transform="matrix(0.39660 0 0 0.38592 276.73 512.03)" font-family="Liberation Sans" font-size="200" fill="#111">80</text>
<text transform="matrix(0.47423 0 0 0.45714 221.26 522.63)" font-family="Liberation Sans" font-size="200" fill="#111">−</text>
<text transform="matrix(0.39660 0 0 0.38592 276.73 650.03)" font-family="Liberation Sans" font-size="200" fill="#111">90</text>
<text transform="matrix(0.47423 0 0 0.45714 221.26 660.63)" font-family="Liberation Sans" font-size="200" fill="#111">−</text>
<text transform="matrix(0.39260 0 0 0.38732 233.41 787.53)" font-family="Liberation Sans" font-size="200" fill="#111">100</text>
<text transform="matrix(0.39072 0 0 0.45714 179.99 798.63)" font-family="Liberation Sans" font-size="200" fill="#111">−</text>
<text transform="matrix(0.41250 0 0 0.38732 233.11 926.23)" font-family="Liberation Sans" font-size="200" fill="#111">110</text>
<text transform="matrix(0.39072 0 0 0.45714 179.99 937.33)" font-family="Liberation Sans" font-size="200" fill="#111">−</text>
<text transform="matrix(0.39260 0 0 0.38732 233.41 1063.53)" font-family="Liberation Sans" font-size="200" fill="#111">120</text>
<text transform="matrix(0.39072 0 0 0.45714 179.99 1076.03)" font-family="Liberation Sans" font-size="200" fill="#111">−</text>
<text transform="matrix(0.39260 0 0 0.38732 233.41 1202.23)" font-family="Liberation Sans" font-size="200" fill="#111">130</text>
<text transform="matrix(0.39072 0 0 0.45714 179.99 1214.63)" font-family="Liberation Sans" font-size="200" fill="#111">−</text>
<text transform="matrix(0.39260 0 0 0.38732 233.41 1339.53)" font-family="Liberation Sans" font-size="200" fill="#111">140</text>
<text transform="matrix(0.39072 0 0 0.45714 179.99 1352.03)" font-family="Liberation Sans" font-size="200" fill="#111">−</text>
<text transform="matrix(0.41401 0 0 0.40141 233.49 1798.20)" font-family="Liberation Sans" font-size="200" fill="#111">50</text>
<text transform="matrix(0.54639 0 0 0.47143 168.54 1810.19)" font-family="Liberation Sans" font-size="200" fill="#111">−</text>
<text transform="matrix(0.41805 0 0 0.39225 232.62 1940.62)" font-family="Liberation Sans" font-size="200" fill="#111">60</text>
<text transform="matrix(0.54639 0 0 0.47143 168.54 1952.99)" font-family="Liberation Sans" font-size="200" fill="#111">−</text>
<text transform="matrix(0.41805 0 0 0.39225 232.62 2083.52)" font-family="Liberation Sans" font-size="200" fill="#111">70</text>
<text transform="matrix(0.54639 0 0 0.47143 168.54 2094.49)" font-family="Liberation Sans" font-size="200" fill="#111">−</text>
<text transform="matrix(0.41602 0 0 0.40141 233.06 2224.20)" font-family="Liberation Sans" font-size="200" fill="#111">80</text>
<text transform="matrix(0.54639 0 0 0.47143 168.54 2235.99)" font-family="Liberation Sans" font-size="200" fill="#111">−</text>
<text transform="matrix(0.41602 0 0 0.40141 233.06 2365.20)" font-family="Liberation Sans" font-size="200" fill="#111">90</text>
<text transform="matrix(0.54639 0 0 0.47143 168.54 2378.99)" font-family="Liberation Sans" font-size="200" fill="#111">−</text>
<text transform="matrix(0.40579 0 0 0.41831 190.61 2509.36)" font-family="Liberation Sans" font-size="200" fill="#111">100</text>
<text transform="matrix(0.26907 0 0 0.47143 154.91 2520.09)" font-family="Liberation Sans" font-size="200" fill="#111">−</text>
<text transform="matrix(0.42635 0 0 0.39859 190.30 2653.00)" font-family="Liberation Sans" font-size="200" fill="#111">110</text>
<text transform="matrix(0.26907 0 0 0.47143 154.91 2663.59)" font-family="Liberation Sans" font-size="200" fill="#111">−</text>
<text transform="matrix(0.40579 0 0 0.40845 190.61 2795.08)" font-family="Liberation Sans" font-size="200" fill="#111">120</text>
<text transform="matrix(0.34433 0 0 0.47143 146.86 2805.59)" font-family="Liberation Sans" font-size="200" fill="#111">−</text>
<text transform="matrix(0.40579 0 0 0.40845 190.61 2938.58)" font-family="Liberation Sans" font-size="200" fill="#111">130</text>
<text transform="matrix(0.34433 0 0 0.47143 146.86 2947.79)" font-family="Liberation Sans" font-size="200" fill="#111">−</text>
<text transform="matrix(0.40579 0 0 0.40915 190.61 3080.78)" font-family="Liberation Sans" font-size="200" fill="#111">140</text>
<text transform="matrix(0.34433 0 0 0.47143 146.86 3089.99)" font-family="Liberation Sans" font-size="200" fill="#111">−</text>
<text transform="matrix(0.39486 0 0 0.39789 326.68 1404.20)" font-family="Liberation Sans" font-size="200" fill="#111">100</text>
<text transform="matrix(0.38766 0 0 0.36901 813.89 1402.06)" font-family="Liberation Sans" font-size="200" fill="#111">1,000</text>
<text transform="matrix(0.38014 0 0 0.39789 1309.30 1397.70)" font-family="Liberation Sans" font-size="200" fill="#111">10,000</text>
<text transform="matrix(0.40486 0 0 0.41549 1790.53 1401.47)" font-family="Liberation Sans" font-size="200" fill="#111">100,000</text>
<text transform="matrix(0.39100 0 0 0.38310 287.14 3146.93)" font-family="Liberation Sans" font-size="200" fill="#111">100</text>
<text transform="matrix(0.38452 0 0 0.36479 771.43 3146.97)" font-family="Liberation Sans" font-size="200" fill="#111">1,000</text>
<text transform="matrix(0.37810 0 0 0.39437 1265.33 3140.71)" font-family="Liberation Sans" font-size="200" fill="#111">10,000</text>
<text transform="matrix(0.39943 0 0 0.38944 1745.81 3144.92)" font-family="Liberation Sans" font-size="200" fill="#111">100,000</text>
<text transform="matrix(0.37720 0 0 0.33768 899.56 1515.50)" font-family="Liberation Sans" font-size="200" fill="#222">Frequency offset, Hz</text>
<text transform="matrix(0.38877 0 0 0.39275 880.78 3266.20)" font-family="Liberation Sans" font-size="200" fill="#222">Frequency offset, Hz</text>
<text transform="matrix(0 -0.37607 0.39420 0 170.60 914.72)" font-family="Liberation Sans" font-size="200" fill="#111">Noise, dBc/Hz</text>
<text transform="matrix(0 -0.38630 0.40507 0 141.50 2635.58)" font-family="Liberation Sans" font-size="200" fill="#111">Noise, dBc/Hz</text>
<text transform="matrix(0.39216 0 0 0.42778 1100.47 1675.83)" font-family="Liberation Serif" font-size="200" fill="#000">(</text>
<text transform="matrix(0.40879 0 0 0.42000 1127.35 1675.28)" font-family="Liberation Serif" font-size="200" fill="#000" font-weight="bold">a</text>
<text transform="matrix(0.38269 0 0 0.42778 1169.70 1675.83)" font-family="Liberation Serif" font-size="200" fill="#000">)</text>
<text transform="matrix(0.39020 0 0 0.42778 1096.49 3426.73)" font-family="Liberation Serif" font-size="200" fill="#000">(</text>
<text transform="matrix(0.44800 0 0 0.44000 1122.66 3426.62)" font-family="Liberation Serif" font-size="200" fill="#000" font-weight="bold">b</text>
<text transform="matrix(0.38269 0 0 0.42778 1174.70 3426.73)" font-family="Liberation Serif" font-size="200" fill="#000">)</text>
<text transform="matrix(0.31740 0 0 0.30217 1744.92 170.70)" font-family="Liberation Sans" font-size="200" fill="#111">Experiment</text>
<text transform="matrix(0.31996 0 0 0.32101 1749.12 249.30)" font-family="Liberation Sans" font-size="200" fill="#111">Simulation</text>
<text transform="matrix(0.32666 0 0 0.32609 1754.37 1878.80)" font-family="Liberation Sans" font-size="200" fill="#111">Experiment</text>
<text transform="matrix(0.32719 0 0 0.31304 1756.66 1957.70)" font-family="Liberation Sans" font-size="200" fill="#111">Simulation</text>
<text transform="matrix(0.52174 0 0 0.47938 515.26 746.87)" font-family="DejaVu Serif" font-size="200" fill="#111" font-style="italic">f</text>
<text transform="matrix(0.33846 0 0 0.36667 572.63 705.17)" font-family="Liberation Serif" font-size="200" fill="#111" font-style="italic">-</text>
<text transform="matrix(0.34409 0 0 0.33955 596.50 701.32)" font-family="Liberation Serif" font-size="200" fill="#111" font-style="italic">3</text>
<text transform="matrix(0.57043 0 0 0.49330 1116.85 587.28)" font-family="DejaVu Serif" font-size="200" fill="#111" font-style="italic">f</text>
<text transform="matrix(0.37284 0 0 0.34583 1154.26 612.31)" font-family="Liberation Serif" font-size="200" fill="#111" font-style="italic">c</text>
<text transform="matrix(0.56174 0 0 0.49072 1275.64 1285.59)" font-family="DejaVu Serif" font-size="200" fill="#111" font-style="italic">f</text>
<text transform="matrix(0.31923 0 0 0.36667 1333.17 1245.17)" font-family="Liberation Serif" font-size="200" fill="#111" font-style="italic">-</text>
<text transform="matrix(0.34375 0 0 0.35682 1356.80 1242.10)" font-family="Liberation Serif" font-size="200" fill="#111" font-style="italic">2</text>
<text transform="matrix(0.55826 0 0 0.49948 1661.90 865.72)" font-family="DejaVu Serif" font-size="200" fill="#111" font-style="italic">f</text>
<text transform="matrix(0.33846 0 0 0.37154 1703.48 891.30)" font-family="Liberation Serif" font-size="200" fill="#111" font-style="italic">L</text>
<text transform="matrix(0.54522 0 0 0.47526 2013.54 1302.04)" font-family="DejaVu Serif" font-size="200" fill="#111" font-style="italic">f</text>
<text transform="matrix(0.32809 0 0 0.34296 2074.18 1258.31)" font-family="Liberation Serif" font-size="200" fill="#111" font-style="italic">0</text>
<text transform="matrix(0.57652 0 0 0.50464 466.62 2465.51)" font-family="DejaVu Serif" font-size="200" fill="#111" font-style="italic">f</text>
<text transform="matrix(0.35769 0 0 0.40000 523.50 2423.00)" font-family="Liberation Serif" font-size="200" fill="#111" font-style="italic">-</text>
<text transform="matrix(0.35591 0 0 0.36343 550.30 2417.67)" font-family="Liberation Serif" font-size="200" fill="#111" font-style="italic">3</text>
<text transform="matrix(0.59739 0 0 0.49845 1103.87 2305.56)" font-family="DejaVu Serif" font-size="200" fill="#111" font-style="italic">f</text>
<text transform="matrix(0.39383 0 0 0.35625 1142.84 2332.79)" font-family="Liberation Serif" font-size="200" fill="#111" font-style="italic">c</text>
<text transform="matrix(0.56696 0 0 0.50155 1270.60 3026.64)" font-family="DejaVu Serif" font-size="200" fill="#111" font-style="italic">f</text>
<text transform="matrix(0.31731 0 0 0.38667 1329.98 2982.77)" font-family="Liberation Serif" font-size="200" fill="#111" font-style="italic">-</text>
<text transform="matrix(0.31250 0 0 0.35682 1356.00 2979.40)" font-family="Liberation Serif" font-size="200" fill="#111" font-style="italic">2</text>
<text transform="matrix(0.59043 0 0 0.49742 1662.49 2595.11)" font-family="DejaVu Serif" font-size="200" fill="#111" font-style="italic">f</text>
<text transform="matrix(0.33077 0 0 0.36231 1704.06 2620.50)" font-family="Liberation Serif" font-size="200" fill="#111" font-style="italic">L</text>
<text transform="matrix(0.56348 0 0 0.50155 2010.76 3030.94)" font-family="DejaVu Serif" font-size="200" fill="#111" font-style="italic">f</text>
<text transform="matrix(0.36629 0 0 0.35259 2071.37 2987.29)" font-family="Liberation Serif" font-size="200" fill="#111" font-style="italic">0</text>
</svg></body></html>
